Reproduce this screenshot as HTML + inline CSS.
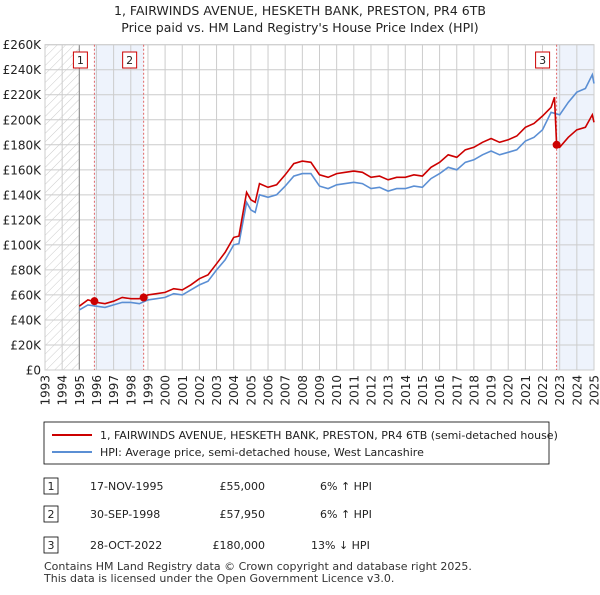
<!DOCTYPE html>
<html><head><meta charset="utf-8"><style>
body{margin:0;background:#fff;font-family:"Liberation Sans","DejaVu Sans",sans-serif;}
svg text{font-family:"DejaVu Sans","Liberation Sans",sans-serif;}
</style></head><body>
<svg id="c" width="600" height="590" viewBox="0 0 600 590" xmlns="http://www.w3.org/2000/svg">
<defs><pattern id="hatch" width="6" height="6" patternUnits="userSpaceOnUse" patternTransform="rotate(45)"><line x1="0" y1="0" x2="0" y2="6" stroke="#ccc" stroke-width="1"/></pattern></defs>
<text x="300" y="15" text-anchor="middle" font-size="12.5" fill="#222">1, FAIRWINDS AVENUE, HESKETH BANK, PRESTON, PR4 6TB</text>
<text x="300" y="32" text-anchor="middle" font-size="12.5" fill="#222">Price paid vs. HM Land Registry's House Price Index (HPI)</text>
<g id="plot"></g>
<rect x="44" y="422" width="505" height="42" fill="#fff" stroke="#000" stroke-width="0.8"/>
<line x1="52" y1="435" x2="92" y2="435" stroke="#cc0000" stroke-width="2"/>
<text x="100" y="439" font-size="11" fill="#222">1, FAIRWINDS AVENUE, HESKETH BANK, PRESTON, PR4 6TB (semi-detached house)</text>
<line x1="52" y1="452" x2="92" y2="452" stroke="#5b8fd4" stroke-width="2"/>
<text x="100" y="456" font-size="11" fill="#222">HPI: Average price, semi-detached house, West Lancashire</text>
<g font-size="11" fill="#222">
<rect x="44" y="478" width="14" height="16" fill="#fff" stroke="#000" stroke-width="0.8"/><text x="51" y="490" text-anchor="middle">1</text>
<text x="90" y="490">17-NOV-1995</text><text x="265" y="490" text-anchor="end">£55,000</text><text x="320" y="490">6% ↑ HPI</text>
<rect x="44" y="506" width="14" height="16" fill="#fff" stroke="#000" stroke-width="0.8"/><text x="51" y="518" text-anchor="middle">2</text>
<text x="90" y="518">30-SEP-1998</text><text x="265" y="518" text-anchor="end">£57,950</text><text x="320" y="518">6% ↑ HPI</text>
<rect x="44" y="537" width="14" height="16" fill="#fff" stroke="#000" stroke-width="0.8"/><text x="51" y="549" text-anchor="middle">3</text>
<text x="90" y="549">28-OCT-2022</text><text x="265" y="549" text-anchor="end">£180,000</text><text x="311" y="549">13% ↓ HPI</text>
</g>
<text x="44" y="570" font-size="11" fill="#333">Contains HM Land Registry data © Crown copyright and database right 2025.</text>
<text x="44" y="582" font-size="11" fill="#333">This data is licensed under the Open Government Licence v3.0.</text>
</svg>
<script>
const years=[1993,1994,1995,1996,1997,1998,1999,2000,2001,2002,2003,2004,2005,2006,2007,2008,2009,2010,2011,2012,2013,2014,2015,2016,2017,2018,2019,2020,2021,2022,2023,2024,2025];
const yTicks=[0,20,40,60,80,100,120,140,160,180,200,220,240,260];
const hpiX=[1995.0,1995.5,1996,1996.5,1997,1997.5,1998,1998.5,1999,1999.5,2000,2000.5,2001,2001.5,2002,2002.5,2003,2003.5,2004,2004.3,2004.75,2005,2005.25,2005.5,2006,2006.5,2007,2007.5,2008,2008.5,2009,2009.5,2010,2010.5,2011,2011.5,2012,2012.5,2013,2013.5,2014,2014.5,2015,2015.5,2016,2016.5,2017,2017.5,2018,2018.5,2019,2019.5,2020,2020.5,2021,2021.5,2022,2022.5,2023,2023.5,2024,2024.5,2024.9,2025];
const hpiY=[48,52,51,50,52,54,54,53,56,57,58,61,60,64,68,71,80,88,100,101,134,128,126,140,138,140,147,155,157,157,147,145,148,149,150,149,145,146,143,145,145,147,146,153,157,162,160,166,168,172,175,172,174,176,183,186,192,206,204,214,222,225,236,229];
const priceX=[1995.0,1995.5,1996,1996.5,1997,1997.5,1998,1998.5,1999,1999.5,2000,2000.5,2001,2001.5,2002,2002.5,2003,2003.5,2004,2004.3,2004.75,2005,2005.25,2005.5,2006,2006.5,2007,2007.5,2008,2008.5,2009,2009.5,2010,2010.5,2011,2011.5,2012,2012.5,2013,2013.5,2014,2014.5,2015,2015.5,2016,2016.5,2017,2017.5,2018,2018.5,2019,2019.5,2020,2020.5,2021,2021.5,2022,2022.5,2022.7,2022.82,2023,2023.5,2024,2024.5,2024.9,2025];
const priceY=[51,56,54,53,55,58,57,57,60,61,62,65,64,68,73,76,85,94,106,107,142,136,134,149,146,148,156,165,167,166,156,154,157,158,159,158,154,155,152,154,154,156,155,162,166,172,170,176,178,182,185,182,184,187,194,197,203,210,218,180,178,186,192,194,204,198];
const saleX=[1995.88,1998.75,2022.82];
const saleY=[55,57.95,180];
const saleLabels=['1','2','3'];
const NS='http://www.w3.org/2000/svg';
const X0=45,X1=594,Y0=370,Y1=44.7;
const xs=t=>X0+(t-1993)/(2025-1993)*(X1-X0);
const ys=v=>Y0-v/260*(Y0-Y1);
const g=document.getElementById('plot');
function mk(tag,a){const e=document.createElementNS(NS,tag);for(const k in a)e.setAttribute(k,a[k]);g.appendChild(e);return e;}
let e;
e=mk('rect',{x:xs(1993),y:Y1,width:xs(1995)-xs(1993),height:Y0-Y1,fill:'url(#hatch)'});


e=mk('rect',{x:xs(saleX[0]),y:Y1,width:xs(saleX[1])-xs(saleX[0]),height:Y0-Y1,fill:'#eef3fc'});


e=mk('rect',{x:xs(saleX[2]),y:Y1,width:X1-xs(saleX[2]),height:Y0-Y1,fill:'#eef3fc'});


yTicks.forEach(v=>{
 e=mk('line',{x1:X0,x2:X1,y1:ys(v),y2:ys(v),stroke:'#ccc','stroke-width':1});
 
 
 e=mk('text',{x:X0-4,y:ys(v)+4.5,'text-anchor':'end','font-size':12,fill:'#222'});
 e.textContent=v===0?'£0':'£'+v+'K';
 
 
});
years.forEach(yr=>{
 e=mk('line',{x1:xs(yr),x2:xs(yr),y1:Y1,y2:Y0,stroke:'#ccc','stroke-width':1});
 
 
 e=mk('text',{x:0,y:0,'text-anchor':'end','font-size':12,fill:'#222',transform:`translate(${xs(yr)+4.5},${Y0+5}) rotate(-90)`});
 e.textContent=yr;
 
 
});
e=mk('line',{x1:xs(1995),x2:xs(1995),y1:Y1,y2:Y0,stroke:'#888','stroke-width':1});


e=mk('rect',{x:X0,y:Y1,width:X1-X0,height:Y0-Y1,fill:'none',stroke:'#ccc'});


saleX.forEach((s,i)=>{
 e=mk('line',{x1:xs(s),x2:xs(s),y1:Y1,y2:Y0,stroke:'#e06666','stroke-width':1,'stroke-dasharray':'2,2'});
 
 
 e=mk('rect',{x:xs(s)-21,y:52,width:14,height:16,fill:'#fff',stroke:'#cc0000','stroke-width':1});
 
 
 e=mk('text',{x:xs(s)-14,y:64,'text-anchor':'middle','font-size':11,fill:'#222'});
 e.textContent=saleLabels[i];
 
 
});
e=mk('path',{d:hpiX.map((t,i)=>(i?'L':'M')+xs(t).toFixed(1)+','+ys(hpiY[i]).toFixed(1)).join(''),fill:'none',stroke:'#5b8fd4','stroke-width':1.6});


e=mk('path',{d:priceX.map((t,i)=>(i?'L':'M')+xs(t).toFixed(1)+','+ys(priceY[i]).toFixed(1)).join(''),fill:'none',stroke:'#cc0000','stroke-width':1.6});


saleX.forEach((s,i)=>{
 e=mk('circle',{cx:xs(s),cy:ys(saleY[i]),r:4,fill:'#cc0000'});
 
 
});
</script>
</body></html>
